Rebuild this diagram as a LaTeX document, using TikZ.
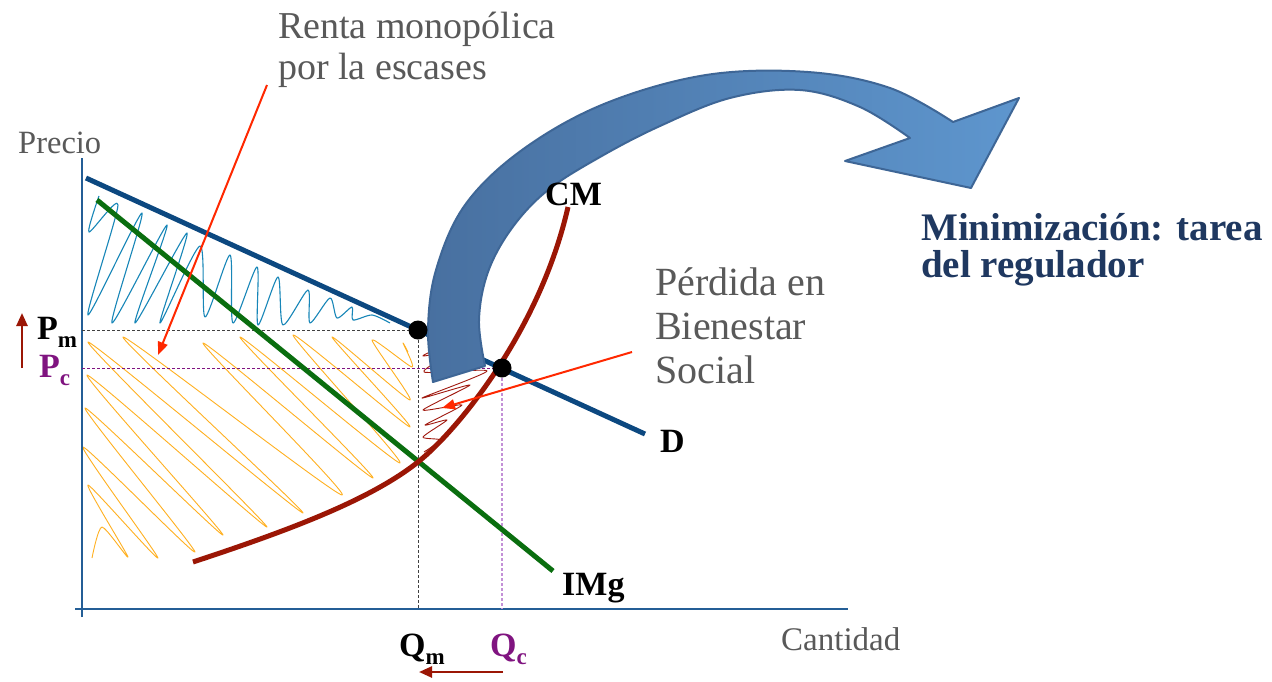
\documentclass[tikz,border=0pt]{standalone}
\usepackage{fontspec}
\setmainfont{Liberation Serif}
\usetikzlibrary{arrows.meta}
\definecolor{axisblue}{RGB}{36,94,150}
\definecolor{dblue}{RGB}{12,72,128}
\definecolor{imggreen}{RGB}{10,110,15}
\definecolor{cmred}{RGB}{155,22,5}
\definecolor{annred}{RGB}{255,40,0}
\definecolor{txtgray}{RGB}{89,89,89}
\definecolor{purp}{RGB}{128,20,128}
\definecolor{lpurp}{RGB}{195,145,215}
\definecolor{navy}{RGB}{31,56,96}
\definecolor{hblue}{RGB}{23,134,184}
\definecolor{horange}{RGB}{255,176,32}
\definecolor{hred}{RGB}{160,25,15}
\definecolor{arrL}{RGB}{72,112,160}
\definecolor{arrR}{RGB}{94,150,206}
\definecolor{arrEdge}{RGB}{62,102,150}
\tikzset{
  curve/.style={line width=5pt},
  hatch/.style={line width=1.1pt, line join=round},
  ann/.style={annred, line width=2pt, -{Triangle[length=13pt,width=10pt]}},
  darr/.style={cmred, line width=2.5pt, -{Triangle[length=13pt,width=11pt]}},
  lbl/.style={font=\bfseries\fontsize{34}{34}\selectfont, inner sep=0pt, anchor=base west},
  gtext/.style={txtgray, inner sep=0pt, anchor=base west},
  bigtext/.style={font=\bfseries\fontsize{39}{39}\selectfont, inner sep=0pt, anchor=base west},
  dot/.style={circle, fill=black, minimum size=19pt, inner sep=0pt},
  gdash/.style={black!75, line width=1pt, dash pattern=on 3pt off 2pt},
}
\newcommand{\subs}[1]{\raisebox{-8pt}{\fontsize{23}{23}\selectfont #1}}
\begin{document}
\begin{tikzpicture}[x=1pt,y=-1pt]
\useasboundingbox (0,0) rectangle (1272,681);
\fill[white] (0,0) rectangle (1272,681);

% hatching
\draw[hblue, hatch] plot[smooth, tension=0.45] coordinates {(99,196) (89,232) (118,205) (88,315) (142,213) (112,323) (167,225) (135,323) (187,233) (160,323) (200,246) (205,317) (230,255) (233,323) (257,267) (258,325) (278,277) (283,325) (308,290) (310,323) (330,298) (337,318) (352,307) (353,320) (372,315) (390,323)};
\draw[horange, hatch, line width=0.9pt] plot[smooth, tension=0.4] coordinates {(92,558) (102,527) (128,557) (88,485) (158,558) (83,447) (195,552) (85,408) (223,535) (87,375) (267,527) (88,342) (303,513) (123,337) (342,495) (203,343) (373,478) (240,337) (400,463) (293,335) (410,427) (332,337) (410,400) (372,340) (412,367) (403,343) (408,352)};
\draw[hred, hatch, line width=0.9pt] plot[smooth, tension=0.4] coordinates {(428,337) (436,348) (423,356) (452,352) (424,372) (487,371) (422,398) (470,385) (423,410) (462,405) (425,425) (447,420) (423,437) (440,440) (424,452)};

% axes
\coordinate (yb) at (82,617); \coordinate (yt) at (82,158);
\coordinate (xl) at (75,609); \coordinate (xr) at (848,609);
\draw[axisblue, line width=2pt] (yb) -- (yt);
\draw[axisblue, line width=2pt] (xl) -- (xr);

% guide lines
\coordinate (pmax) at (82,330); \coordinate (pcax) at (82,368);
\coordinate (qmax) at (418,609); \coordinate (qcax) at (502,609);
\coordinate (pmr) at (418,330); \coordinate (pcr) at (502,368);
\draw[gdash] (pmax) -- (pmr);
\draw[gdash] (pmr) -- (qmax);
\draw[purp, line width=1pt, dash pattern=on 3pt off 2pt] (pcax) -- (pcr);
\draw[lpurp, line width=1.2pt, dash pattern=on 3pt off 2pt] (pcr) -- (qcax);

% curves
\coordinate (d0) at (86,178); \coordinate (d1) at (645,434);
\draw[dblue, curve] (d0) -- (d1);
\coordinate (i0) at (97,200); \coordinate (i1) at (553,571);
\draw[imggreen, curve] (i0) -- (i1);
\coordinate (c0) at (193,562); \coordinate (cmid) at (418,462); \coordinate (c1) at (568,207);
\draw[cmred, curve] (c0) .. controls (290,530) and (370,500) .. (cmid) .. controls (458,430) and (540,330) .. (c1);

% big curved arrow
\draw[arrEdge, line width=2pt, line join=round, left color=arrL, right color=arrR]
  (433,382) -- plot[smooth, tension=0.6] coordinates {(485,366) (479,320) (488,272) (512,228) (548,190) (600,157) (660,126) (730,98) (800,90) (860,107) (910,138)}
  -- (845,161) -- (971,188) -- (1019,98) -- (953,122)
  -- plot[smooth, tension=0.6] coordinates {(953,122) (890,88) (808,72) (706,75) (604,104) (522,150) (465,205) (436,270) (428,330) (433,382)} -- cycle;

% dots
\node[dot] (pm) at (pmr) {};
\node[dot] (pc) at (pcr) {};

% labels
\node[gtext, font=\fontsize{32.5}{33}\selectfont] (precio) at (18,153) {Precio};
\node[gtext, font=\fontsize{33}{33}\selectfont] (cantidad) at (781,650) {Cantidad};
\node[gtext, font=\fontsize{38}{40}\selectfont] (renta1) at (278,38) {Renta monopólica};
\node[gtext, font=\fontsize{38}{40}\selectfont] (renta2) at (278,79) {por la escases};
\node[gtext, font=\fontsize{40}{40}\selectfont] (perd1) at (655,295) {Pérdida en};
\node[gtext, font=\fontsize{40}{40}\selectfont] (perd2) at (655,339) {Bienestar};
\node[gtext, font=\fontsize{40}{40}\selectfont] (perd3) at (655,383) {Social};

\node[bigtext, navy] (min1) at (921,240) {Minimización: tarea};
\node[bigtext, navy] (min2) at (921,277) {del regulador};

\node[lbl] (cm) at (545,205) {CM};
\node[lbl] (dl) at (660,452) {D};
\node[lbl] (img) at (562,595) {IMg};
\node[lbl] (pml) at (37,339) {P\subs{m}};
\node[lbl, purp] (pcl) at (39,377) {P\subs{c}};
\node[lbl] (qml) at (399,656) {Q\subs{m}};
\node[lbl, purp] (qcl) at (490,656) {Q\subs{c}};

% annotation arrows
\coordinate (a1s) at (267,85); \coordinate (a1e) at (158,355);
\draw[ann] (a1s) -- (a1e);
\coordinate (a2s) at (632,352); \coordinate (a2e) at (442,408);
\draw[ann] (a2s) -- (a2e);

% movement arrows
\coordinate (up0) at (22,368); \coordinate (up1) at (22,313);
\draw[darr] (up0) -- (up1);
\coordinate (lf0) at (503,672); \coordinate (lf1) at (419,672);
\draw[darr] (lf0) -- (lf1);
\end{tikzpicture}
\end{document}
